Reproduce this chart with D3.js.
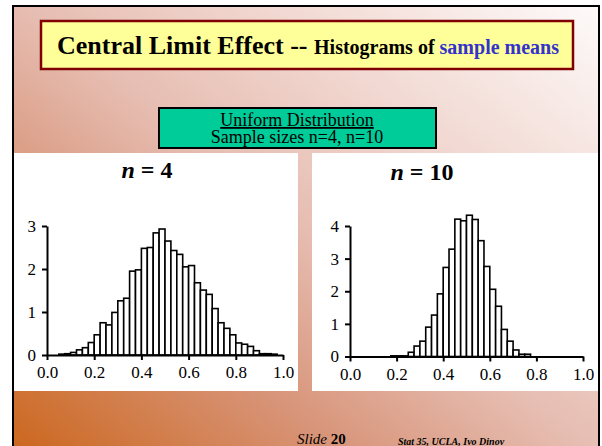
<!DOCTYPE html>
<html>
<head>
<meta charset="utf-8">
<script src="https://cdn.jsdelivr.net/npm/d3@7"></script>
<style>
  body { margin: 0; background: #fff; }
  svg { display: block; }
  text { font-family: "Times New Roman", "Liberation Serif", serif; }
</style>
</head>
<body>
<div id="slide"></div>
<script>
// density of sample means, 40 bins of width 0.025 on [0,1]
const binWidth = 0.025;
const densityN4 = [0, 0, 0.02, 0.03, 0.06, 0.12, 0.17, 0.29, 0.47, 0.75,
    0.70, 0.99, 1.26, 1.32, 1.95, 1.98, 2.48, 2.50, 2.84, 2.93,
    2.65, 2.43, 2.34, 2.05, 2.08, 1.68, 1.51, 1.41, 1.08, 0.75,
    0.62, 0.47, 0.28, 0.25, 0.20, 0.10, 0.03, 0.03, 0.02, 0];
const densityN10 = [0, 0, 0, 0, 0, 0, 0, 0.02, 0.02, 0.02,
    0.13, 0.32, 0.47, 0.90, 1.27, 1.92, 2.73, 3.29, 4.21, 4.16,
    4.33, 4.20, 3.55, 2.76, 2.06, 1.54, 0.83, 0.47, 0.20, 0.07,
    0.07, 0, 0, 0, 0, 0, 0, 0, 0, 0];
const xTicks = [0, 0.2, 0.4, 0.6, 0.8, 1.0];
const yTicksN4 = [0, 1, 2, 3];
const yTicksN10 = [0, 1, 2, 3, 4];

const width = 602, height = 446;

const svg = d3.select("#slide")
    .append("svg")
    .attr("width", width)
    .attr("height", height);

const defs = svg.append("defs");
const grad = defs.append("linearGradient")
    .attr("id", "bg")
    .attr("x1", 0).attr("y1", 1)
    .attr("x2", 1).attr("y2", 0);
[["0", "#cb6418"], ["0.3", "#d8957a"], ["0.5", "#e6bcb0"], ["0.75", "#f3dcd6"], ["1", "#fdfafa"]]
    .forEach(s => grad.append("stop").attr("offset", s[0]).attr("stop-color", s[1]));

// slide background + frame
svg.append("rect")
    .attr("x", 13).attr("y", 6)
    .attr("width", 586).attr("height", 460)
    .attr("fill", "url(#bg)")
    .attr("stroke", "#000")
    .attr("stroke-width", 2);

// title box
svg.append("rect")
    .attr("x", 41).attr("y", 21)
    .attr("width", 532).attr("height", 48)
    .attr("fill", "#ffff99")
    .attr("stroke", "#800000")
    .attr("stroke-width", 2.5);

const title = svg.append("text")
    .attr("x", 308).attr("y", 54)
    .attr("text-anchor", "middle")
    .attr("font-weight", "bold");
title.append("tspan").attr("font-size", "26px").text("Central Limit Effect -- ");
title.append("tspan").attr("font-size", "20px").text("Histograms of ");
title.append("tspan").attr("font-size", "20px").attr("fill", "#3333cc").text("sample means");

// green box
svg.append("rect")
    .attr("x", 159).attr("y", 108)
    .attr("width", 277).attr("height", 40)
    .attr("fill", "#00cc99")
    .attr("stroke", "#000")
    .attr("stroke-width", 2);

svg.append("text")
    .attr("x", 297).attr("y", 126)
    .attr("text-anchor", "middle")
    .attr("font-size", "18px")
    .attr("text-decoration", "underline")
    .text("Uniform Distribution");
svg.append("text")
    .attr("x", 297).attr("y", 143)
    .attr("text-anchor", "middle")
    .attr("font-size", "18px")
    .text("Sample sizes n=4, n=10");

// white panels
svg.append("rect").attr("x", 14).attr("y", 153).attr("width", 284).attr("height", 238).attr("fill", "#fff");
svg.append("rect").attr("x", 312).attr("y", 153).attr("width", 286).attr("height", 238).attr("fill", "#fff");

function histogram(opts) {
    const x = d3.scaleLinear().domain([0, 1]).range([opts.x0, opts.x1]);
    const y = d3.scaleLinear().domain([0, d3.max(opts.yTicks)]).range([opts.y0, opts.yTop]);

    const bins = opts.values
        .map((v, i) => ({ x0: i * binWidth, v: v }))
        .filter(d => d.v > 0);

    const g = svg.append("g");

    g.append("g")
        .selectAll("rect")
        .data(bins)
        .enter().append("rect")
        .attr("x", d => x(d.x0))
        .attr("width", x(binWidth) - x(0))
        .attr("y", d => y(d.v))
        .attr("height", d => y(0) - y(d.v))
        .attr("fill", "#fff")
        .attr("stroke", "#000")
        .attr("stroke-width", 1.6);

    const xAxis = g.append("g")
        .attr("transform", "translate(0," + opts.y0 + ")")
        .call(d3.axisBottom(x).tickValues(xTicks).tickFormat(d3.format(".1f")).tickSize(5).tickSizeOuter(0));
    const yAxis = g.append("g")
        .attr("transform", "translate(" + opts.x0 + ",0)")
        .call(d3.axisLeft(y).tickValues(opts.yTicks).tickFormat(d3.format("d")).tickSize(5).tickSizeOuter(0));

    [xAxis, yAxis].forEach(a => {
        a.select(".domain").attr("stroke-width", 2);
        a.selectAll(".tick line").attr("stroke-width", 2);
        a.selectAll("text")
            .attr("font-family", "'Times New Roman', 'Liberation Serif', serif")
            .attr("font-size", "17px")
            .attr("fill", "#000");
    });
    xAxis.selectAll("text").attr("dy", "0.9em");
    yAxis.selectAll("text").attr("x", -11);

    const t = svg.append("text")
        .attr("x", opts.titleX).attr("y", opts.titleY)
        .attr("text-anchor", "middle")
        .attr("font-size", "24px")
        .attr("font-weight", "bold");
    t.append("tspan").attr("font-style", "italic").text("n");
    t.append("tspan").text(" = " + opts.n);
}

histogram({ values: densityN4, yTicks: yTicksN4, n: 4,
    x0: 47, x1: 283, y0: 355, yTop: 226, titleX: 147, titleY: 178 });
histogram({ values: densityN10, yTicks: yTicksN10, n: 10,
    x0: 350, x1: 583, y0: 356.5, yTop: 226, titleX: 422, titleY: 180 });

// footer
const foot = svg.append("text").attr("x", 297).attr("y", 444).attr("font-size", "15px");
foot.append("tspan").attr("font-style", "italic").text("Slide ");
foot.append("tspan").attr("font-weight", "bold").text("20");
svg.append("text")
    .attr("x", 398).attr("y", 445)
    .attr("font-size", "10px")
    .attr("font-style", "italic")
    .attr("font-weight", "bold")
    .text("Stat 35, UCLA, Ivo Dinov");
</script>
</body>
</html>
